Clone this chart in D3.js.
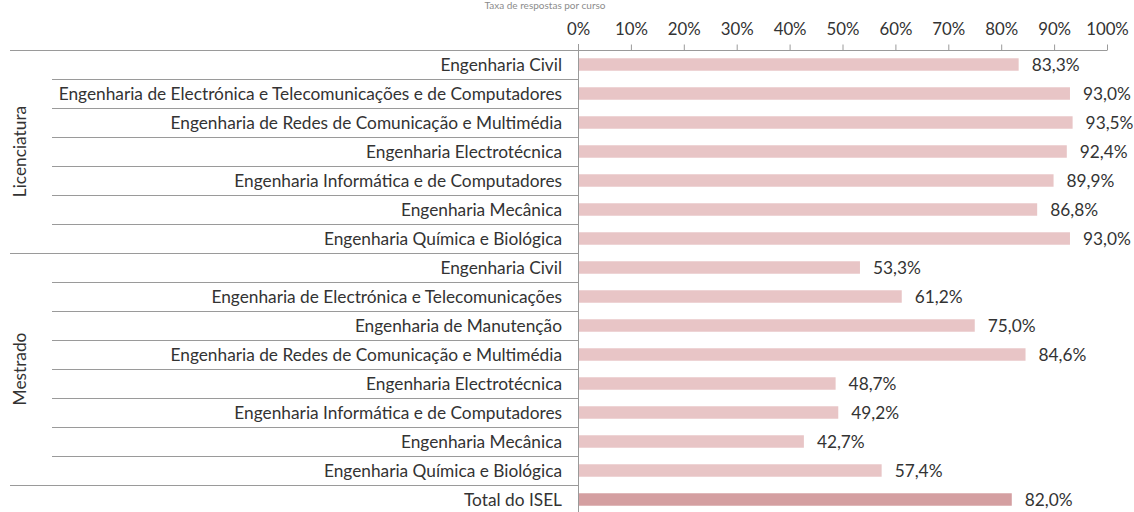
<!DOCTYPE html>
<html>
<head>
<meta charset="utf-8">
<script src="https://cdnjs.cloudflare.com/ajax/libs/d3/7.8.5/d3.min.js"></script>
<style>
  body { margin: 0; background: #fff; }
  svg { display: block; }
  text { font-family: Lato, "Open Sans", sans-serif; fill: #333; }
</style>
</head>
<body>
<script>
// Taxa de respostas por curso (ISEL)
var groups = ["Licenciatura", "Mestrado", ""];

var licCourses = [
    "Engenharia Civil",
    "Engenharia de Electrónica e Telecomunicações e de Computadores",
    "Engenharia de Redes de Comunicação e Multimédia",
    "Engenharia Electrotécnica",
    "Engenharia Informática e de Computadores",
    "Engenharia Mecânica",
    "Engenharia Química e Biológica"
];
var licValues = [0.833, 0.930, 0.935, 0.924, 0.899, 0.868, 0.930];

var mesCourses = [
    "Engenharia Civil",
    "Engenharia de Electrónica e Telecomunicações",
    "Engenharia de Manutenção",
    "Engenharia de Redes de Comunicação e Multimédia",
    "Engenharia Electrotécnica",
    "Engenharia Informática e de Computadores",
    "Engenharia Mecânica",
    "Engenharia Química e Biológica"
];
var mesValues = [0.533, 0.612, 0.750, 0.846, 0.487, 0.492, 0.427, 0.574];

var totalCourses = ["Total do ISEL"];
var totalValues = [0.820];

var xTicks = [0, 0.1, 0.2, 0.3, 0.4, 0.5, 0.6, 0.7, 0.8, 0.9, 1];

var W = 1134, H = 512;

// build rows
var rows = [];
[[licCourses, licValues], [mesCourses, mesValues], [totalCourses, totalValues]].forEach(function (g, gi) {
    g[0].forEach(function (c, i) {
        rows.push({ group: gi, course: c, value: g[1][i], first: i === 0, total: gi === 2 });
    });
});
rows.forEach(function (r, i) { r.i = i; });

var svg = d3.select("body").append("svg")
    .attr("width", W)
    .attr("height", H);

var x = d3.scaleLinear().domain([0, 1]).range([578, 1107]);
var y = d3.scaleBand()
    .domain(rows.map(function (d) { return d.i; }))
    .range([50, 514])
    .paddingInner(0.57)
    .paddingOuter(0.285);
var step = y.step();

// work out font size so the longest label spans like the original
var probe = svg.append("text").style("font-size", "10px").text(licCourses[1]);
var fs = Math.round(10 * 505 / probe.node().getComputedTextLength() * 10) / 10;
probe.remove();

// title (only its lower edge shows in the original)
svg.append("text")
    .attr("x", 545).attr("y", 9)
    .attr("text-anchor", "middle")
    .style("font-size", "10px")
    .style("fill", "#8c8c8c")
    .text("Taxa de respostas por curso");

// top axis
var xAxis = d3.axisTop(x)
    .tickValues(xTicks)
    .tickSize(6)
    .tickFormat(d3.format(".0%"));

var ax = svg.append("g")
    .attr("transform", "translate(0,50.5)")
    .call(xAxis);
ax.select(".domain").attr("stroke", "#9a9a9a").attr("d", "M10,0H" + x(1));
ax.selectAll(".tick line").attr("stroke", "#9a9a9a");
ax.selectAll(".tick text")
    .attr("y", -16)
    .style("font-size", (fs - 0.5) + "px")
    .style("font-family", "Lato, sans-serif")
    .attr("fill", "#333");

// vertical category axis
svg.append("line")
    .attr("x1", x(0) + 0.5).attr("x2", x(0) + 0.5)
    .attr("y1", 44).attr("y2", H)
    .attr("stroke", "#9a9a9a");

// row separators
svg.selectAll("line.sep")
    .data(rows.filter(function (d) { return d.i > 0; }))
    .enter().append("line")
    .attr("class", "sep")
    .attr("x1", function (d) { return d.first ? 10 : 52; })
    .attr("x2", x(0))
    .attr("y1", function (d) { return Math.round(y(d.i) - (step - y.bandwidth()) / 2) + 0.5; })
    .attr("y2", function (d) { return Math.round(y(d.i) - (step - y.bandwidth()) / 2) + 0.5; })
    .attr("stroke", "#9a9a9a");

// course labels
svg.selectAll("text.cat")
    .data(rows)
    .enter().append("text")
    .attr("class", "cat")
    .attr("x", 562)
    .attr("y", function (d) { return y(d.i) + y.bandwidth() / 2; })
    .attr("dy", "0.35em")
    .attr("text-anchor", "end")
    .style("font-size", fs + "px")
    .text(function (d) { return d.course; });

// group labels
[0, 1].forEach(function (gi) {
    var gr = rows.filter(function (d) { return d.group === gi; });
    var y0 = y(gr[0].i) - (step - y.bandwidth()) / 2;
    var y1 = y(gr[gr.length - 1].i) + y.bandwidth() + (step - y.bandwidth()) / 2;
    var cy = (y0 + y1) / 2;
    svg.append("text")
        .attr("transform", "translate(20," + cy + ") rotate(-90)")
        .attr("text-anchor", "middle")
        .attr("dy", "0.35em")
        .style("font-size", fs + "px")
        .text(groups[gi]);
});

// bars
svg.selectAll("rect.bar")
    .data(rows)
    .enter().append("rect")
    .attr("class", "bar")
    .attr("x", x(0) + 1)
    .attr("y", function (d) { return y(d.i); })
    .attr("width", function (d) { return x(d.value) - x(0) - 1; })
    .attr("height", y.bandwidth())
    .attr("fill", function (d) { return d.total ? "#d49fa1" : "#e8c5c6"; });

// value labels
var fmt = function (v) { return d3.format(".1f")(v * 100).replace(".", ",") + "%"; };
svg.selectAll("text.val")
    .data(rows)
    .enter().append("text")
    .attr("class", "val")
    .attr("x", function (d) { return x(d.value) + 13; })
    .attr("y", function (d) { return y(d.i) + y.bandwidth() / 2; })
    .attr("dy", "0.35em")
    .style("font-size", fs + "px")
    .text(function (d) { return fmt(d.value); });
</script>
</body>
</html>
